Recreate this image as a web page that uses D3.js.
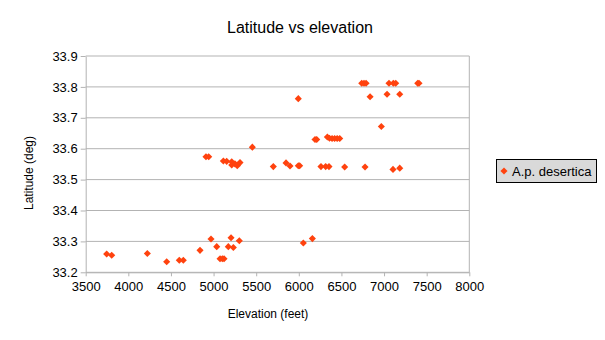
<!DOCTYPE html>
<html><head><meta charset="utf-8">
<script src="https://cdn.jsdelivr.net/npm/d3@7"></script>
<style>body{margin:0;background:#fff}svg{display:block;font-family:"Liberation Sans",Arial,sans-serif}</style>
</head><body><svg id="c" width="605" height="340"></svg>
<script>
const elevation = [3746,3805,4223,4450,4598,4645,4841,4970,5037,5076,5103,5123,5173,5205,5232,5302,
  4911,4943,5115,5154,5213,5213,5251,5278,5310,5455,
  5701,5850,5897,5994,6010,5994,6053,6159,6190,6210,6260,6315,6354,
  6335,6360,6390,6420,6450,6480,6538,6738,6765,6789,6777,6836,6968,7035,7058,7109,7137,7105,7184,7184,7395,7410];
const latitude = [33.259,33.255,33.261,33.234,33.239,33.239,33.271,33.308,33.283,33.244,33.244,33.244,33.283,33.312,33.280,33.302,
  33.574,33.574,33.560,33.559,33.558,33.547,33.551,33.545,33.555,33.605,
  33.542,33.554,33.544,33.545,33.545,33.762,33.295,33.309,33.630,33.630,33.542,33.542,33.542,
  33.638,33.634,33.633,33.633,33.633,33.633,33.541,33.812,33.812,33.812,33.541,33.768,33.672,33.776,33.812,33.812,33.812,33.533,33.776,33.537,33.812,33.812];
const xTicks = [3500,4000,4500,5000,5500,6000,6500,7000,7500,8000];
const yTicks = [33.2,33.3,33.4,33.5,33.6,33.7,33.8,33.9];
const seriesName = "A.p. desertica";

const svg = d3.select("#c");
const L=85.7, R=469.3, T=56, B=272.3;
const x = d3.scaleLinear().domain([3500,8000]).range([L,R]);
const y = d3.scaleLinear().domain([33.2,33.9]).range([B,T]);
const col = "#ff420e";

svg.append("g").selectAll("line").data(yTicks).join("line")
  .attr("x1",L).attr("x2",R).attr("y1",d=>y(d)).attr("y2",d=>y(d))
  .attr("stroke","#b3b3b3").attr("stroke-width",1);
svg.append("line").attr("x1",R).attr("x2",R).attr("y1",T).attr("y2",B).attr("stroke","#b3b3b3");

const xa = svg.append("g").attr("transform",`translate(0,${B})`)
  .call(d3.axisBottom(x).tickValues(xTicks).tickFormat(d3.format("d")).tickSize(4).tickSizeOuter(0));
const ya = svg.append("g").attr("transform",`translate(${L},0)`)
  .call(d3.axisLeft(y).tickValues(yTicks).tickFormat(d3.format(".1f")).tickSize(5).tickSizeOuter(0));
[xa,ya].forEach(a=>{
  a.select(".domain").attr("stroke","#b3b3b3");
  a.selectAll(".tick line").attr("stroke","#b3b3b3");
  a.selectAll("text").attr("fill","#000").style("font-size","13px").style("font-family","'Liberation Sans',Arial,sans-serif");
});
xa.selectAll("text").attr("dy","0.71em").attr("y",9);
ya.selectAll("text").attr("x",-8);

const sym = d3.symbol().type(d3.symbolDiamond2).size(32);
svg.append("g").selectAll("path").data(elevation.map((e,i)=>[e,latitude[i]])).join("path")
  .attr("d",sym).attr("transform",d=>`translate(${x(d[0])},${y(d[1])})`).attr("fill",col);

svg.append("text").attr("x",300).attr("y",33).attr("text-anchor","middle")
  .style("font-size","16px").text("Latitude vs elevation");
svg.append("text").attr("x",268).attr("y",318).attr("text-anchor","middle")
  .style("font-size","12px").text("Elevation (feet)");
svg.append("text").attr("transform","translate(33,173) rotate(-90)").attr("text-anchor","middle")
  .style("font-size","12px").text("Latitude (deg)");

const lg = svg.append("g");
lg.append("rect").attr("x",496.5).attr("y",159.5).attr("width",100).attr("height",23)
  .attr("fill","#d9d9d9").attr("stroke","#000").attr("stroke-width",1);
lg.append("path").attr("d",sym).attr("transform","translate(504,171)").attr("fill",col);
lg.append("text").attr("x",512).attr("y",176).style("font-size","13px").text(seriesName);
</script></body></html>
